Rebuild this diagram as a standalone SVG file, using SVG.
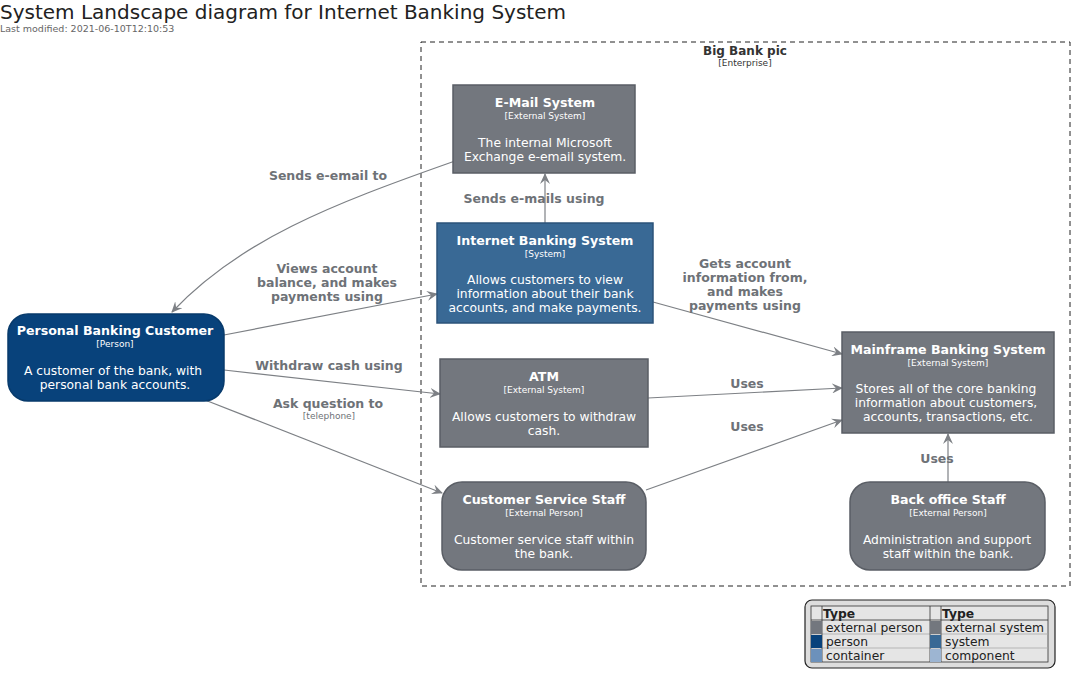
<svg xmlns="http://www.w3.org/2000/svg" width="1075" height="684" viewBox="0 0 1075 684">
<style>
text{font-family:"DejaVu Sans","Liberation Sans",sans-serif}
.t{font-size:12.6px;font-weight:bold;fill:#fff;text-anchor:middle}
.ty{font-size:9px;fill:#fff;text-anchor:middle}
.d{font-size:12.3px;fill:#fff;text-anchor:middle}
.ext{fill:#73777E;stroke:#5A5E65;stroke-width:1.5}
.sys{fill:#396995;stroke:#2B537A;stroke-width:1.5}
.per{fill:#08427B;stroke:#073A6B;stroke-width:1.5}
.c{fill:none;stroke:#7D8085;stroke-width:1.2}
.l{font-size:12.5px;font-weight:bold;fill:#6E7277;text-anchor:middle}
.ls{font-size:9px;fill:#6E7277;text-anchor:middle}
.lg{font-size:12.3px;fill:#222}
</style>
<defs>
<marker id="a" markerWidth="12" markerHeight="10" refX="10" refY="5" orient="auto" markerUnits="userSpaceOnUse">
<path d="M0,0 L11,5 L0,10 L4,5 Z" fill="#7D8085"/>
</marker>
</defs>
<rect width="1075" height="684" fill="#fff"/>
<text x="0" y="19" style="font-size:20px;fill:#222">System Landscape diagram for Internet Banking System</text>
<text x="0" y="32" style="font-size:9.5px;fill:#666">Last modified: 2021-06-10T12:10:53</text>

<g id="boundary">
<rect x="421" y="42" width="649" height="544" fill="none" stroke="#222" stroke-width="1" stroke-dasharray="5,4"/>
<text x="745" y="55" style="font-size:12px;font-weight:bold;fill:#333;text-anchor:middle">Big Bank pic</text>
<text x="745" y="66" style="font-size:9px;fill:#333;text-anchor:middle">[Enterprise]</text>
</g>

<g id="connectors">
<path class="c" d="M455,161 C330,205 240,240 172,312" marker-end="url(#a)"/>
<text class="l" x="328" y="180">Sends e-email to</text>
<path class="c" d="M545,223 L545,174" marker-end="url(#a)"/>
<text class="l" x="534" y="203">Sends e-mails using</text>
<path class="c" d="M224,335 L437,294" marker-end="url(#a)"/>
<text class="l" x="327" y="273">Views account</text>
<text class="l" x="327" y="287">balance, and makes</text>
<text class="l" x="327" y="301">payments using</text>
<path class="c" d="M224,370 L440,394" marker-end="url(#a)"/>
<text class="l" x="329" y="370">Withdraw cash using</text>
<path class="c" d="M205,400 L442,493" marker-end="url(#a)"/>
<text class="l" x="328" y="408">Ask question to</text>
<text class="ls" x="329" y="419">[telephone]</text>
<path class="c" d="M653,302 L842,354" marker-end="url(#a)"/>
<text class="l" x="745" y="268">Gets account</text>
<text class="l" x="745" y="282">information from,</text>
<text class="l" x="745" y="296">and makes</text>
<text class="l" x="745" y="310">payments using</text>
<path class="c" d="M648,398 L842,388" marker-end="url(#a)"/>
<text class="l" x="747" y="388">Uses</text>
<path class="c" d="M646,490 L842,420" marker-end="url(#a)"/>
<text class="l" x="747" y="431">Uses</text>
<path class="c" d="M948,482 L948,434" marker-end="url(#a)"/>
<text class="l" x="937" y="463">Uses</text>
</g>

<g id="email">
<rect class="ext" x="453" y="85" width="182" height="88"/>
<text class="t" x="545" y="107">E-Mail System</text>
<text class="ty" x="545" y="119">[External System]</text>
<text class="d" x="545" y="147">The internal Microsoft</text>
<text class="d" x="545" y="161">Exchange e-email system.</text>
</g>

<g id="ibs">
<rect class="sys" x="437" y="223" width="216" height="100"/>
<text class="t" x="545" y="245">Internet Banking System</text>
<text class="ty" x="545" y="257">[System]</text>
<text class="d" x="545" y="284">Allows customers to view</text>
<text class="d" x="545" y="298">information about their bank</text>
<text class="d" x="545" y="312">accounts, and make payments.</text>
</g>

<g id="customer">
<rect class="per" x="8" y="314" width="216" height="87" rx="20"/>
<text class="t" x="115" y="335">Personal Banking Customer</text>
<text class="ty" x="115" y="347">[Person]</text>
<text class="d" x="113" y="375">A customer of the bank, with</text>
<text class="d" x="115" y="389">personal bank accounts.</text>
</g>

<g id="atm">
<rect class="ext" x="440" y="359" width="208" height="88"/>
<text class="t" x="544" y="381">ATM</text>
<text class="ty" x="544" y="393">[External System]</text>
<text class="d" x="544" y="421">Allows customers to withdraw</text>
<text class="d" x="544" y="435">cash.</text>
</g>

<g id="mainframe">
<rect class="ext" x="842" y="332" width="212" height="101"/>
<text class="t" x="948" y="354">Mainframe Banking System</text>
<text class="ty" x="948" y="366">[External System]</text>
<text class="d" x="946" y="393">Stores all of the core banking</text>
<text class="d" x="946" y="407">information about customers,</text>
<text class="d" x="948" y="421">accounts, transactions, etc.</text>
</g>

<g id="css">
<rect class="ext" x="442" y="482" width="204" height="88" rx="20"/>
<text class="t" x="544" y="504">Customer Service Staff</text>
<text class="ty" x="544" y="516">[External Person]</text>
<text class="d" x="544" y="544">Customer service staff within</text>
<text class="d" x="544" y="558">the bank.</text>
</g>

<g id="backoffice">
<rect class="ext" x="850" y="482" width="195" height="88" rx="20"/>
<text class="t" x="948" y="504">Back office Staff</text>
<text class="ty" x="948" y="516">[External Person]</text>
<text class="d" x="947" y="544">Administration and support</text>
<text class="d" x="948" y="558">staff within the bank.</text>
</g>

<g id="legend">
<rect x="805" y="600" width="250" height="68" rx="7" fill="#DDDDDD" stroke="#222" stroke-width="1.2"/>
<rect x="811" y="606" width="237" height="56" fill="#E5E5E5" stroke="#333" stroke-width="0.8"/>
<line x1="811" y1="620" x2="1048" y2="620" stroke="#333" stroke-width="0.8"/>
<line x1="811" y1="634" x2="1048" y2="634" stroke="#aaa" stroke-width="0.8"/>
<line x1="811" y1="648" x2="1048" y2="648" stroke="#aaa" stroke-width="0.8"/>
<line x1="822" y1="606" x2="822" y2="662" stroke="#333" stroke-width="0.8"/>
<line x1="930" y1="606" x2="930" y2="662" stroke="#333" stroke-width="0.8"/>
<line x1="941" y1="606" x2="941" y2="662" stroke="#333" stroke-width="0.8"/>
<rect x="811" y="621" width="11" height="13" fill="#73777E"/>
<rect x="811" y="635" width="11" height="13" fill="#08427B"/>
<rect x="811" y="649" width="11" height="13" fill="#6C91BB"/>
<rect x="930" y="621" width="11" height="13" fill="#73777E"/>
<rect x="930" y="635" width="11" height="13" fill="#396995"/>
<rect x="930" y="649" width="11" height="13" fill="#9DB5D2"/>
<text class="lg" x="823" y="618" style="font-weight:bold">Type</text>
<text class="lg" x="942" y="618" style="font-weight:bold">Type</text>
<text class="lg" x="826" y="632">external person</text>
<text class="lg" x="826" y="646">person</text>
<text class="lg" x="826" y="660">container</text>
<text class="lg" x="945" y="632">external system</text>
<text class="lg" x="945" y="646">system</text>
<text class="lg" x="945" y="660">component</text>
</g>
</svg>
